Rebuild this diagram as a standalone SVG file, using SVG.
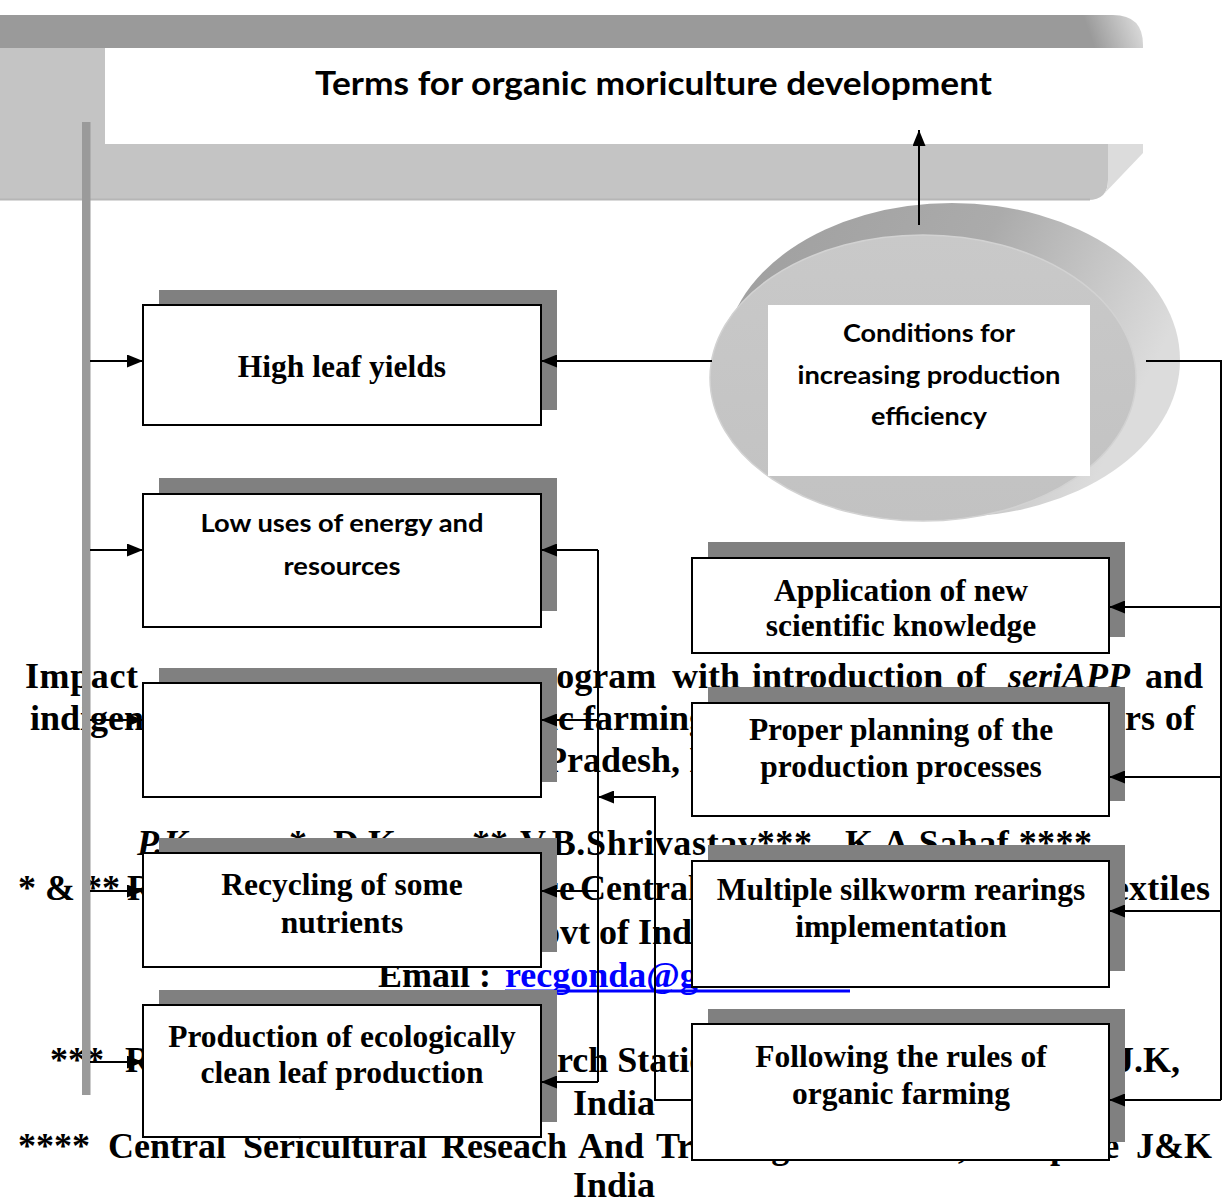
<svg xmlns="http://www.w3.org/2000/svg" width="1224" height="1200" viewBox="0 0 1224 1200">
<defs>
<marker id="ah" viewBox="0 0 16 13" refX="16" refY="6.5" markerWidth="16" markerHeight="13" markerUnits="userSpaceOnUse" orient="auto">
<path d="M0,0 L16,6.5 L0,13 z" fill="#000"/>
</marker>
<linearGradient id="bandEnd" gradientUnits="userSpaceOnUse" x1="1092" y1="40" x2="1140" y2="22">
<stop offset="0" stop-color="#9a9a9a"/>
<stop offset="1" stop-color="#dadada"/>
</linearGradient>
<linearGradient id="discBack" x1="0" y1="0" x2="1" y2="0.35">
<stop offset="0" stop-color="#9e9e9e"/>
<stop offset="0.55" stop-color="#ababab"/>
<stop offset="1" stop-color="#dcdcdc"/>
</linearGradient>
<linearGradient id="discFront" x1="0" y1="0" x2="0" y2="1">
<stop offset="0" stop-color="#c9c9c9"/>
<stop offset="1" stop-color="#c2c2c2"/>
</linearGradient>
</defs>
<style>
.bg{font-family:"Liberation Serif","Times New Roman",serif;font-weight:bold;font-size:36px;fill:#000}
.it{font-style:italic}
.box{fill:#fff;stroke:#000;stroke-width:2}
.shadow{fill:#808080}
.tb{font-family:"Liberation Serif","Times New Roman",serif;font-weight:bold;font-size:31.5px;fill:#000;text-anchor:middle}
.ts{font-family:Lato,"Open Sans",sans-serif;font-weight:700;fill:#000;text-anchor:middle}
.conn{fill:none;stroke:#000;stroke-width:2}
</style>

<g id="title-banner">
<path d="M0,15 H1113 Q1143,15 1143,45 V48 H0 Z" fill="url(#bandEnd)"/>
<path d="M0,48 H105 V144 H1108 V180 Q1108,200 1088,200 H0 Z" fill="#c4c4c4"/>
<path d="M1108,144 H1143 V153 L1101,197 Q1108,192 1108,180 Z" fill="#dcdcdc"/>
<line x1="0" y1="199.5" x2="1090" y2="199.5" stroke="#b6b6b6" stroke-width="2"/>
<rect x="105" y="48" width="1038" height="96" fill="#fff"/>
<text class="ts" x="653.5" y="95" font-size="32" textLength="677" lengthAdjust="spacingAndGlyphs">Terms for organic moriculture development</text>
</g>

<g id="background-text">
<text class="bg" y="688"><tspan x="25" textLength="113" lengthAdjust="spacing">Impact</tspan><tspan x="521">program</tspan><tspan x="672">with</tspan><tspan x="752">introduction</tspan><tspan x="956">of</tspan><tspan x="1008" class="it">seriAPP</tspan><tspan x="1145">and</tspan></text>
<text class="bg" y="730"><tspan x="30">indigenous</tspan><tspan x="458">organic</tspan><tspan x="583">farming</tspan><tspan x="1033">farmers</tspan><tspan x="1165">of</tspan></text>
<text class="bg" y="772"><tspan x="545">Pradesh, India</tspan></text>
<text class="bg" y="855"><tspan x="137" class="it">P.K</tspan><tspan x="289">*,</tspan><tspan x="333">D.K</tspan><tspan x="472">**</tspan><tspan x="520" textLength="292" lengthAdjust="spacing">V.B.Shrivastav***</tspan><tspan x="845" textLength="247" lengthAdjust="spacing">K.A.Sahaf ****</tspan></text>
<text class="bg" y="900"><tspan x="18">* &amp; **</tspan><tspan x="127" textLength="448" lengthAdjust="spacing">Regional Extension Centre</tspan><tspan x="580">Central</tspan><tspan x="1092" textLength="118" lengthAdjust="spacing">Textiles</tspan></text>
<text class="bg" y="944"><tspan x="514">Govt of India</tspan></text>
<text class="bg" y="987"><tspan x="378">Email :</tspan><tspan x="505" fill="#0000ff">recgonda@gmail.com</tspan></text>
<line x1="505" y1="991" x2="850" y2="991" stroke="#0000ff" stroke-width="3"/>
<text class="bg" y="1072"><tspan x="50">***</tspan><tspan x="125">Regional</tspan><tspan x="467">Research Station,</tspan><tspan x="1116">J.K,</tspan></text>
<text class="bg" x="614" y="1115" text-anchor="middle">India</text>
<text class="bg" y="1158"><tspan x="18">****</tspan><tspan x="108">Central</tspan><tspan x="243">Sericultural</tspan><tspan x="441">Reseach</tspan><tspan x="578">And</tspan><tspan x="656">Training</tspan><tspan x="820">Institute</tspan><tspan x="958">,</tspan><tspan x="980">Pampore</tspan><tspan x="1136">J&amp;K</tspan></text>
<text class="bg" x="614" y="1197" text-anchor="middle">India</text>
</g>

<g id="left-bar">
<rect x="82" y="122" width="8.5" height="973" fill="#9a9a9a"/>
</g>

<g id="node-conditions">
<ellipse cx="952" cy="360" rx="228" ry="157" fill="url(#discBack)"/>
<ellipse cx="923" cy="378" rx="213" ry="143" fill="url(#discFront)" stroke="#d2d2d2" stroke-width="1.5"/>
<rect x="768" y="305" width="322" height="171" fill="#fff"/>
<text class="ts" font-size="24" x="929" y="342" textLength="172" lengthAdjust="spacingAndGlyphs">Conditions for</text>
<text class="ts" font-size="24" x="929" y="384" textLength="263" lengthAdjust="spacingAndGlyphs">increasing production</text>
<text class="ts" font-size="24" x="929" y="425" textLength="116" lengthAdjust="spacingAndGlyphs">efficiency</text>
</g>

<g id="node-high-leaf">
<rect class="shadow" x="159" y="290" width="398" height="120"/>
<rect class="box" x="143" y="305" width="398" height="120"/>
<text class="tb" x="342" y="377">High leaf yields</text>
</g>

<g id="node-low-uses">
<rect class="shadow" x="159" y="478" width="398" height="133"/>
<rect class="box" x="143" y="494" width="398" height="133"/>
<text class="ts" font-size="24" x="342" y="532" textLength="283" lengthAdjust="spacingAndGlyphs">Low uses of energy and</text>
<text class="ts" font-size="24" x="342" y="575" textLength="117" lengthAdjust="spacingAndGlyphs">resources</text>
</g>

<g id="node-empty">
<rect class="shadow" x="159" y="668" width="398" height="114"/>
<rect class="box" x="143" y="683" width="398" height="114"/>
</g>

<g id="node-recycling">
<rect class="shadow" x="159" y="838" width="398" height="114"/>
<rect class="box" x="143" y="853" width="398" height="114"/>
<text class="tb" x="342" y="895">Recycling of some</text>
<text class="tb" x="342" y="933">nutrients</text>
</g>

<g id="node-production">
<rect class="shadow" x="159" y="990" width="398" height="132"/>
<rect class="box" x="143" y="1005" width="398" height="132"/>
<text class="tb" x="342" y="1047">Production of ecologically</text>
<text class="tb" x="342" y="1083">clean leaf production</text>
</g>

<g id="node-application">
<rect class="shadow" x="708" y="542" width="417" height="95"/>
<rect class="box" x="692" y="558" width="417" height="95"/>
<text class="tb" x="901" y="601">Application of new</text>
<text class="tb" x="901" y="636">scientific knowledge</text>
</g>

<g id="node-planning">
<rect class="shadow" x="708" y="687" width="417" height="114"/>
<rect class="box" x="692" y="703" width="417" height="113"/>
<text class="tb" x="901" y="740">Proper planning of the</text>
<text class="tb" x="901" y="777">production processes</text>
</g>

<g id="node-multiple">
<rect class="shadow" x="708" y="845" width="417" height="126"/>
<rect class="box" x="692" y="861" width="417" height="126"/>
<text class="tb" x="901" y="900">Multiple silkworm rearings</text>
<text class="tb" x="901" y="937">implementation</text>
</g>

<g id="node-following">
<rect class="shadow" x="708" y="1009" width="417" height="133"/>
<rect class="box" x="692" y="1024" width="417" height="136"/>
<text class="tb" x="901" y="1067">Following the rules of</text>
<text class="tb" x="901" y="1104">organic farming</text>
</g>

<g id="connectors">
<path class="conn" d="M919,225 V130" marker-end="url(#ah)"/>
<path class="conn" d="M712,361 H541" marker-end="url(#ah)"/>
<path class="conn" d="M1146,361 H1221 V1100"/>
<path class="conn" d="M1221,607 H1109" marker-end="url(#ah)"/>
<path class="conn" d="M1221,777 H1109" marker-end="url(#ah)"/>
<path class="conn" d="M1221,911 H1109" marker-end="url(#ah)"/>
<path class="conn" d="M1221,1100 H1109" marker-end="url(#ah)"/>
<path class="conn" d="M90,361 H143" marker-end="url(#ah)"/>
<path class="conn" d="M90,550 H143" marker-end="url(#ah)"/>
<path class="conn" d="M90,720 H143" marker-end="url(#ah)"/>
<path class="conn" d="M90,891 H143" marker-end="url(#ah)"/>
<path class="conn" d="M90,1062 H143" marker-end="url(#ah)"/>
<path class="conn" d="M598,550 V1082" stroke-width="1.6"/>
<path class="conn" d="M598,550 H541" marker-end="url(#ah)"/>
<path class="conn" d="M598,720 H541" marker-end="url(#ah)"/>
<path class="conn" d="M598,891 H541" marker-end="url(#ah)"/>
<path class="conn" d="M598,1082 H541" marker-end="url(#ah)"/>
<path class="conn" d="M692,1100 H655 V797 H598" stroke-width="1.6" marker-end="url(#ah)"/>
</g>
</svg>
